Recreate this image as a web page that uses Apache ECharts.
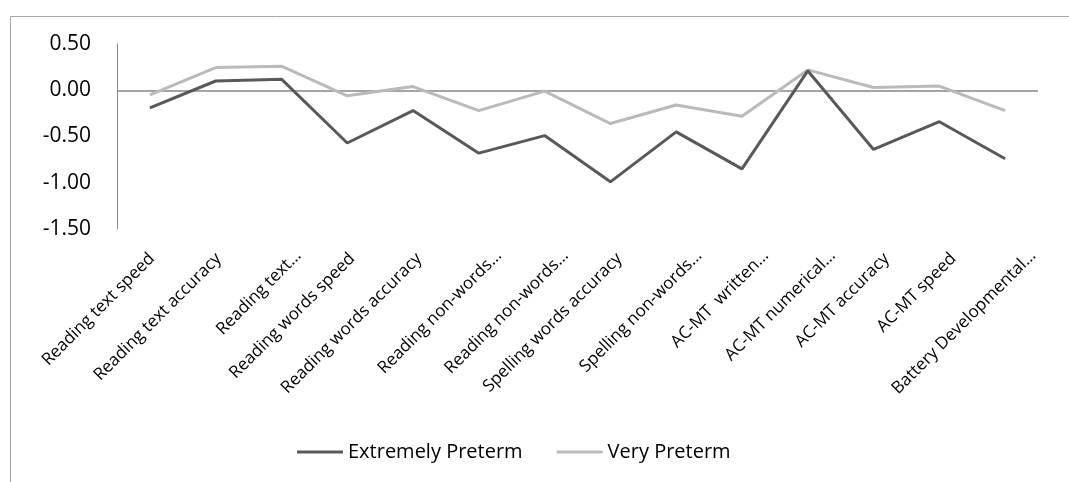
<!DOCTYPE html>
<html>
<head>
<meta charset="utf-8">
<script src="https://cdn.jsdelivr.net/npm/echarts@6/dist/echarts.min.js"></script>
<style>
  html, body { margin: 0; padding: 0; background: #ffffff; }
  #chart { width: 1069px; height: 482px; }
</style>
</head>
<body>
<div id="chart"></div>
<script>
// Test labels (as printed under the axis)
const categories = [
  'Reading text speed',
  'Reading text accuracy',
  'Reading text…',
  'Reading words speed',
  'Reading words accuracy',
  'Reading non-words…',
  'Reading non-words…',
  'Spelling words accuracy',
  'Spelling non-words…',
  'AC-MT  written…',
  'AC-MT numerical…',
  'AC-MT accuracy',
  'AC-MT speed',
  'Battery Developmental…'
];

// Mean z-scores per group
const extremelyPreterm = [-0.19, 0.10, 0.12, -0.57, -0.22, -0.68, -0.49, -0.99, -0.45, -0.85, 0.21, -0.64, -0.34, -0.74];
const veryPreterm = [-0.05, 0.245, 0.26, -0.06, 0.04, -0.22, -0.01, -0.36, -0.16, -0.28, 0.22, 0.03, 0.045, -0.22];

// Value axis ticks
const yTicks = { min: -1.5, max: 0.5, interval: 0.5 };

const FONT = '"Open Sans", "Liberation Sans", sans-serif';
const LABEL_SIZE = 17;

// Rotated category labels are nudged right/down a little; clipped names ("…") sit further right.
// A screen-space shift (dx, dy) is turned into padding in the label's rotated frame.
function labelItem(name, i) {
  const clipped = name.endsWith('…');
  const dx = 2 + 1.0 * i + (clipped ? 13 : 0);
  const dy = clipped ? 2 : 5;
  const along = (dx - dy) / Math.SQRT2;
  const across = (dx + dy) / Math.SQRT2;
  return {
    value: name,
    textStyle: {
      verticalAlign: 'top',
      padding: [across - LABEL_SIZE / 2, -along, 0, 0]
    }
  };
}

const chart = echarts.init(document.getElementById('chart'), null, { renderer: 'canvas' });

chart.setOption({
  backgroundColor: '#ffffff',
  animation: false,
  graphic: [{
    type: 'rect',
    left: 8, top: 14,
    shape: { width: 1100, height: 500 },
    style: { fill: 'none', stroke: '#a6a6a6', lineWidth: 1 },
    silent: true, z: -1
  }],
  grid: { left: 117, right: 31, top: 44, bottom: 253, containLabel: false },
  legend: {
    top: 437,
    left: 292,
    icon: 'rect',
    itemWidth: 46,
    itemHeight: 3,
    itemGap: 34,
    textStyle: { fontFamily: FONT, fontSize: 20, color: '#000000' },
    data: ['Extremely Preterm', 'Very Preterm']
  },
  xAxis: {
    type: 'category',
    data: categories.map(labelItem),
    boundaryGap: true,
    axisLine: { show: false, onZero: false },
    axisTick: { show: false },
    splitLine: { show: false },
    axisLabel: {
      interval: 0,
      rotate: 45,
      margin: 22,
      fontFamily: FONT,
      fontSize: LABEL_SIZE,
      color: '#000000'
    }
  },
  yAxis: {
    type: 'value',
    min: yTicks.min,
    max: yTicks.max,
    interval: yTicks.interval,
    axisLine: { show: true, lineStyle: { color: '#868686', width: 1 } },
    axisTick: { show: false },
    splitLine: { show: false },
    axisLabel: {
      margin: 26,
      fontFamily: FONT,
      fontSize: 21,
      color: '#000000',
      formatter: v => v.toFixed(2)
    }
  },
  series: [
    {
      name: 'Extremely Preterm',
      type: 'line',
      data: extremelyPreterm,
      symbol: 'none',
      z: 3,
      lineStyle: { color: '#595959', width: 3 },
      itemStyle: { color: '#595959' },
      markLine: {
        silent: true,
        symbol: 'none',
        label: { show: false },
        lineStyle: { color: '#868686', width: 1.5, type: 'solid' },
        data: [{ yAxis: 0 }],
        z: 1
      }
    },
    {
      name: 'Very Preterm',
      type: 'line',
      data: veryPreterm,
      symbol: 'none',
      z: 2,
      lineStyle: { color: '#bababa', width: 3 },
      itemStyle: { color: '#bababa' }
    }
  ]
});
</script>
</body>
</html>
